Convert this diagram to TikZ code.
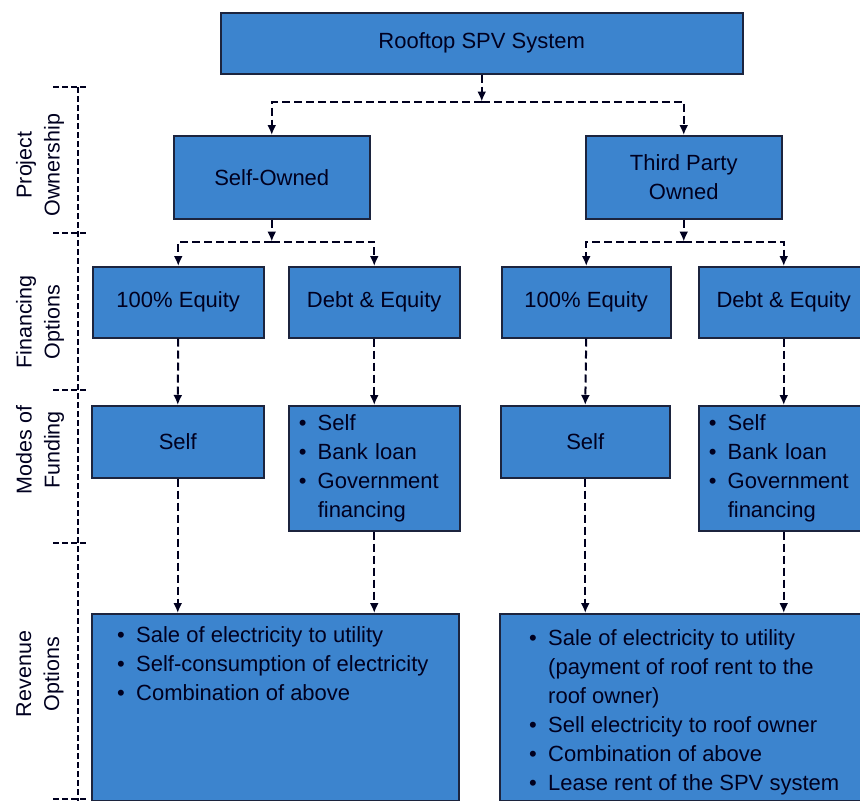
\documentclass[tikz,border=0pt]{standalone}
\usepackage{fontspec}
\setmainfont{Liberation Sans}
\usepackage{xcolor}
\usepackage{tikz}
\usetikzlibrary{positioning,arrows.meta}
\tikzset{>={Latex[length=10pt,width=9pt]}}
\definecolor{boxblue}{RGB}{60,132,206}
\definecolor{edge}{RGB}{28,36,62}
\colorlet{ink}{black!88!blue}
\newcommand{\itm}{\makebox[19pt][l]{\textbullet}}
\newcommand{\gap}{\hspace*{19pt}}

\begin{document}
\begin{tikzpicture}[x=1pt, y=-1pt,
  BOX/.style={draw=edge, fill=boxblue, line width=1.5pt, text=ink,
              inner sep=0pt, anchor=north west,
              font=\fontsize{22}{29}\selectfont},
  LIST/.style={BOX, align=left},
  TXT/.style={text=ink, inner sep=0pt, anchor=north west, align=left,
              font=\fontsize{22}{29}\selectfont},
  LINK/.style={draw=ink, line width=2pt, dash pattern=on 8pt off 4pt, ->},
  AXIS/.style={draw=ink, line width=1.5pt, dash pattern=on 6pt off 3pt},
  SIDE/.style={rotate=90, align=center, text=ink, inner sep=0pt,
               font=\fontsize{21.5}{28}\selectfont}
]
\useasboundingbox (0,0) rectangle (860,801);

% top
\node[BOX, minimum width=522, minimum height=61] (spv) at (220,12) {Rooftop SPV System};

% ownership
\node[BOX, minimum width=196, minimum height=83] (own1) at (173,135) {Self-Owned};
\node[BOX, minimum width=196, minimum height=83, align=center] (own2) at (585,135) {Third Party\\Owned};

% financing
\node[BOX, minimum width=171, minimum height=71] (fin1) at (92,266) {100\% Equity};
\node[BOX, minimum width=171, minimum height=71] (fin2) at (288,266) {Debt \& Equity};
\node[BOX, minimum width=169, minimum height=71] (fin3) at (501,266) {100\% Equity};
\node[BOX, minimum width=170, minimum height=71] (fin4) at (698,266) {Debt \& Equity};

% funding
\node[BOX, minimum width=172, minimum height=72] (fund1) at (91,405) {Self};
\node[LIST, minimum width=171, minimum height=125, text width=151, inner xsep=10pt] (fund2) at (288,405)
  {\itm Self\\ \itm Bank loan\\ \itm Government\\ \gap financing};
\node[BOX, minimum width=169, minimum height=72] (fund3) at (500,405) {Self};
\node[LIST, minimum width=170, minimum height=125, text width=150, inner xsep=10pt] (fund4) at (698,405)
  {\itm Self\\ \itm Bank loan\\ \itm Government\\ \gap financing};

% revenue
\node[BOX, minimum width=367, minimum height=187] (rev1) at (91,613) {};
\node[TXT] (rev1txt) at ([xshift=26pt,yshift=-13pt]rev1.north west)
  {\itm Sale of electricity to utility\\
   \itm Self-consumption of electricity\\
   \itm Combination of above};
\node[BOX, minimum width=368, minimum height=187] (rev2) at (499,613) {};
\node[TXT] (rev2txt) at ([xshift=30pt,yshift=-16pt]rev2.north west)
  {\itm Sale of electricity to utility\\
   \gap (payment of roof rent to the\\
   \gap roof owner)\\
   \itm Sell electricity to roof owner\\
   \itm Combination of above\\
   \itm Lease rent of the SPV system};

% connectors
\coordinate (j0) at ([yshift=-27pt]spv.south);
\coordinate (j1) at ([yshift=-22pt]own1.south);
\coordinate (j2) at ([yshift=-22pt]own2.south);
\draw[LINK] (spv.south) -- (j0);
\draw[LINK] (j0) -| (own1.north);
\draw[LINK] (j0) -| (own2.north);
\draw[LINK] (own1.south) -- (j1);
\draw[LINK] (j1) -| (fin1.north);
\draw[LINK] (j1) -| (fin2.north);
\draw[LINK] (own2.south) -- (j2);
\draw[LINK] (j2) -| (fin3.north);
\draw[LINK] (j2) -| (fin4.north);
\foreach \i in {1,2,3,4}
  \draw[LINK] (fin\i.south) -- (fund\i.north);
\draw[LINK] (fund1.south) -- (fund1.south |- rev1.north);
\draw[LINK] (fund2.south) -- (fund2.south |- rev1.north);
\draw[LINK] (fund3.south) -- (fund3.south |- rev2.north);
\draw[LINK] (fund4.south) -- (fund4.south |- rev2.north);

% side scale
\draw[AXIS] (78,87) -- (78,801);
\foreach \y in {87,233,390,543,799}
  \draw[AXIS] (53,\y) -- (88,\y);
\node[SIDE] (lbl1) at (40,165) {Project\\Ownership};
\node[SIDE] (lbl2) at (40,322) {Financing\\Options};
\node[SIDE] (lbl3) at (40,450) {Modes of\\Funding};
\node[SIDE] (lbl4) at (40,674) {Revenue\\Options};
\end{tikzpicture}
\end{document}
